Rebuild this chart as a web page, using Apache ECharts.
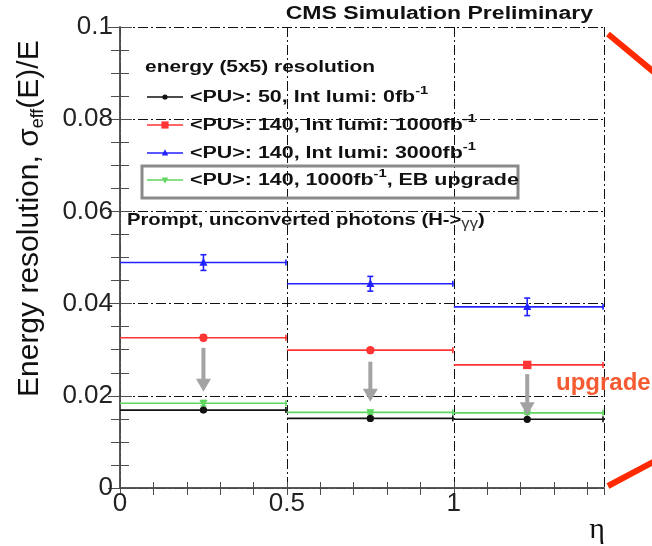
<!DOCTYPE html>
<html><head><meta charset="utf-8">
<script src="https://cdn.jsdelivr.net/npm/echarts@6/dist/echarts.min.js"></script>
<style>html,body{margin:0;padding:0;background:#fff}#c{width:652px;height:546px}</style>
</head><body><div id="c"></div>
<script>
// ---- data ----
const binEdges = [0, 0.5, 1.0, 1.45];
const binCenters = [0.25, 0.75, 1.22];
const pu50 = [0.0169, 0.0151, 0.0149];
const pu50Err = [0.0003, 0.0003, 0.0003];
const pu140L1000 = [0.0326, 0.0299, 0.0267];
const pu140L1000Err = [0.0006, 0.0004, 0.0003];
const pu140L3000 = [0.0489, 0.0443, 0.0393];
const pu140L3000Err = [0.0017, 0.0016, 0.0019];
const pu140Upgrade = [0.0184, 0.0164, 0.0163];
const pu140UpgradeErr = [0.0006, 0.0004, 0.0003];
const arrowFrom = [0.0304, 0.0274, 0.0247];
const arrowTo = [0.0209, 0.0187, 0.0158];
const xTickValues = [0, 0.5, 1];
const xTickLabels = ['0', '0.5', '1'];
const yTickValues = [0, 0.02, 0.04, 0.06, 0.08, 0.1];
const yTickLabels = ['0', '0.02', '0.04', '0.06', '0.08', '0.1'];
const legendTexts = [
  '<PU>: 50, Int lumi: 0fb{s|-1}',
  '<PU>: 140, Int lumi: 1000fb{s|-1}',
  '<PU>: 140, Int lumi: 3000fb{s|-1}',
  '<PU>: 140, 1000fb{s|-1}, EB upgrade'
];

// ---- styling ----
const F = "'Liberation Sans', Arial, Helvetica, sans-serif";
const C_BLACK = '#111111', C_RED = '#ff3535', C_BLUE = '#2222ff', C_GREEN = '#5fd65f';
const AX = '#4d4d4d';

function marker(kind, x, y, color, s) {
  if (kind === 'circle') return {type: 'circle', shape: {cx: x, cy: y, r: s}, style: {fill: color}};
  if (kind === 'rect') return {type: 'rect', shape: {x: x - s, y: y - s, width: 2 * s, height: 2 * s}, style: {fill: color}};
  if (kind === 'tri') return {type: 'polygon', shape: {points: [[x, y - s * 1.2], [x - s, y + s * 0.8], [x + s, y + s * 0.8]]}, style: {fill: color}};
  return {type: 'polygon', shape: {points: [[x, y + s * 1.2], [x - s, y - s * 0.8], [x + s, y - s * 0.8]]}, style: {fill: color}};
}

function makeSeries(name, vals, errs, color, kindFn, size) {
  const data = vals.map((v, i) => [binEdges[i], binEdges[i + 1], binCenters[i], v, errs[i]]);
  return {
    type: 'custom', name, data, encode: {x: [0, 1, 2], y: 3},
    renderItem(params, api) {
      const i = params.dataIndex;
      const lo = api.coord([api.value(0), api.value(3)]);
      const hi = api.coord([api.value(1), api.value(3)]);
      const c = api.coord([api.value(2), api.value(3)]);
      const t = api.coord([api.value(2), api.value(3) + api.value(4)]);
      const b = api.coord([api.value(2), api.value(3) - api.value(4)]);
      const ls = {stroke: color, lineWidth: 1.6};
      return {type: 'group', children: [
        {type: 'line', shape: {x1: lo[0], y1: lo[1], x2: hi[0], y2: hi[1]}, style: ls},
        {type: 'line', shape: {x1: hi[0] - 1, y1: hi[1] - 3, x2: hi[0] - 1, y2: hi[1] + 3}, style: ls},
        {type: 'line', shape: {x1: c[0], y1: t[1], x2: c[0], y2: b[1]}, style: ls},
        {type: 'line', shape: {x1: c[0] - 3, y1: t[1], x2: c[0] + 3, y2: t[1]}, style: ls},
        {type: 'line', shape: {x1: c[0] - 3, y1: b[1], x2: c[0] + 3, y2: b[1]}, style: ls},
        marker(kindFn(i), c[0], c[1], color, size)
      ]};
    }
  };
}

const arrowSeries = {
  type: 'custom', name: 'arrows', z: 3,
  data: binCenters.map((x, i) => [x, arrowFrom[i], arrowTo[i]]),
  encode: {x: 0, y: [1, 2]},
  renderItem(params, api) {
    const s = api.coord([api.value(0), api.value(1)]);
    const e = api.coord([api.value(0), api.value(2)]);
    const hh = 13, hw = 7.5;
    return {type: 'group', children: [
      {type: 'line', shape: {x1: s[0], y1: s[1], x2: e[0], y2: e[1] - hh + 1}, style: {stroke: '#a3a3a3', lineWidth: 4}},
      {type: 'polygon', shape: {points: [[e[0] - hw, e[1] - hh], [e[0] + hw, e[1] - hh], [e[0], e[1]]]}, style: {fill: '#a3a3a3'}}
    ]};
  }
};

function fmt(values, labels) {
  return v => { const k = values.findIndex(t => Math.abs(t - v) < 1e-6); return k >= 0 ? labels[k] : ''; };
}

const gridDash = {type: [10, 3, 2, 3], color: '#111', width: 1};
const legendRows = [97, 125, 153, 180];
const legendColors = [C_BLACK, C_RED, C_BLUE, C_GREEN];
const legendKinds = ['circle', 'rect', 'tri', 'dtri'];
const legendSizes = [2.6, 3.6, 3.2, 3.2];

const graphic = [
  {type: 'text', x: 593, y: 14.5, scaleX: 1.28, z: 10,
   style: {text: 'CMS Simulation Preliminary', font: `bold 18px ${F}`, fill: '#111', align: 'right', textAlign: 'right', verticalAlign: 'middle', textVerticalAlign: 'middle'}},
  {type: 'text', x: 29.5, y: 397, rotation: Math.PI / 2, z: 10,
   style: {text: 'Energy resolution, σ{sub|eff}(E)/E', font: `30px ${F}`, fill: '#111', lineHeight: 36,
           align: 'left', textAlign: 'left', verticalAlign: 'middle', textVerticalAlign: 'middle',
           rich: {sub: {font: `18px ${F}`, fill: '#111', verticalAlign: 'bottom', lineHeight: 18}}}},
  {type: 'text', x: 597, y: 530, z: 10,
   style: {text: 'η', font: "30px 'Liberation Serif', serif", fill: '#111', align: 'center', textAlign: 'center', verticalAlign: 'middle', textVerticalAlign: 'middle'}},
  {type: 'text', x: 145, y: 67, scaleX: 1.23, z: 10,
   style: {text: 'energy (5x5) resolution', font: `bold 17px ${F}`, fill: '#111', align: 'left', textAlign: 'left', verticalAlign: 'middle', textVerticalAlign: 'middle'}},
  {type: 'rect', shape: {x: 142, y: 166, width: 376, height: 32}, z: 10, style: {stroke: '#8a8a8a', lineWidth: 3, fill: 'none'}},
  {type: 'text', x: 127, y: 220.5, scaleX: 1.19, z: 10,
   style: {text: 'Prompt, unconverted photons (H->{g|γγ})', font: `bold 17px ${F}`, fill: '#111', lineHeight: 22,
           align: 'left', textAlign: 'left', verticalAlign: 'middle', textVerticalAlign: 'middle',
           rich: {g: {font: `14px ${F}`, fill: '#333', verticalAlign: 'bottom', lineHeight: 16}}}},
  {type: 'text', x: 556, y: 383, z: 10,
   style: {text: 'upgrade', font: `bold 24px ${F}`, fill: '#f55a30', align: 'left', textAlign: 'left', verticalAlign: 'middle', textVerticalAlign: 'middle'}},
  {type: 'line', z: 10, shape: {x1: 608, y1: 34, x2: 655, y2: 73}, style: {stroke: '#ff2a00', lineWidth: 6}},
  {type: 'line', z: 10, shape: {x1: 608, y1: 486, x2: 655, y2: 461}, style: {stroke: '#ff2a00', lineWidth: 6}}
];
legendTexts.forEach((t, i) => {
  const y = legendRows[i];
  graphic.push({type: 'line', z: 10, shape: {x1: 147, y1: y, x2: 183, y2: y}, style: {stroke: legendColors[i], lineWidth: 1.6}});
  const m = marker(legendKinds[i], 165, y, legendColors[i], legendSizes[i]); m.z = 11; graphic.push(m);
  graphic.push({type: 'text', x: 190, y: y + 0.5, scaleX: 1.34, z: 10,
    style: {text: t, font: `bold 16px ${F}`, fill: '#111', lineHeight: 24,
            align: 'left', textAlign: 'left', verticalAlign: 'middle', textVerticalAlign: 'middle',
            rich: {s: {font: `bold 11px ${F}`, fill: '#111', verticalAlign: 'top', lineHeight: 11}}}});
});

const chart = echarts.init(document.getElementById('c'), null, {renderer: 'canvas'});
chart.setOption({
  animation: false,
  backgroundColor: '#fff',
  grid: {left: 120, right: 48, top: 27, bottom: 58, containLabel: false},
  xAxis: [
    {type: 'value', position: 'bottom', min: 0, max: 1.45, interval: 0.1,
     axisLine: {show: true, lineStyle: {color: AX, width: 1.5}},
     axisTick: {show: true, inside: true, length: 6, lineStyle: {color: AX}},
     axisLabel: {show: true, margin: 3, formatter: fmt(xTickValues, xTickLabels), fontFamily: 'Liberation Sans', fontSize: 26, color: '#222', showMaxLabel: false},
     splitLine: {show: false}},
    {type: 'value', position: 'top', min: 0, max: 1.45, interval: 0.1,
     axisLine: {show: true, lineStyle: {color: AX, width: 1.5}},
     axisTick: {show: true, inside: true, length: 7, lineStyle: {color: AX}},
     axisLabel: {show: false}, splitLine: {show: false}},
    {type: 'value', position: 'bottom', min: 0, max: 1.45, interval: 0.5,
     axisLine: {show: false}, axisTick: {show: false}, axisLabel: {show: false},
     splitLine: {show: true, lineStyle: gridDash}}
  ],
  yAxis: [
    {type: 'value', position: 'left', min: 0, max: 0.1, interval: 0.02,
     axisLine: {show: true, lineStyle: {color: AX, width: 1.5}},
     axisTick: {show: true, inside: true, length: 12, lineStyle: {color: AX}},
     minorTick: {show: true, splitNumber: 4, length: 9, lineStyle: {color: AX}},
     axisLabel: {show: true, margin: 7, formatter: fmt(yTickValues, yTickLabels), fontFamily: 'Liberation Sans', fontSize: 26, color: '#222'},
     splitLine: {show: true, lineStyle: gridDash}},
    {type: 'value', position: 'right', min: 0, max: 0.1, interval: 0.02,
     axisLine: {show: true, lineStyle: {color: AX, width: 1.5}},
     axisTick: {show: true, inside: true, length: 12, lineStyle: {color: AX}},
     minorTick: {show: true, splitNumber: 4, length: 9, lineStyle: {color: AX}},
     axisLabel: {show: false}, splitLine: {show: false}}
  ],
  series: [
    makeSeries('PU140 3000', pu140L3000, pu140L3000Err, C_BLUE, () => 'tri', 4),
    makeSeries('PU140 1000', pu140L1000, pu140L1000Err, C_RED, i => (i < 2 ? 'circle' : 'rect'), 4.2),
    makeSeries('PU140 upgrade', pu140Upgrade, pu140UpgradeErr, C_GREEN, () => 'dtri', 4),
    makeSeries('PU50', pu50, pu50Err, C_BLACK, () => 'circle', 3.6),
    arrowSeries
  ],
  graphic
});
</script>
</body></html>
